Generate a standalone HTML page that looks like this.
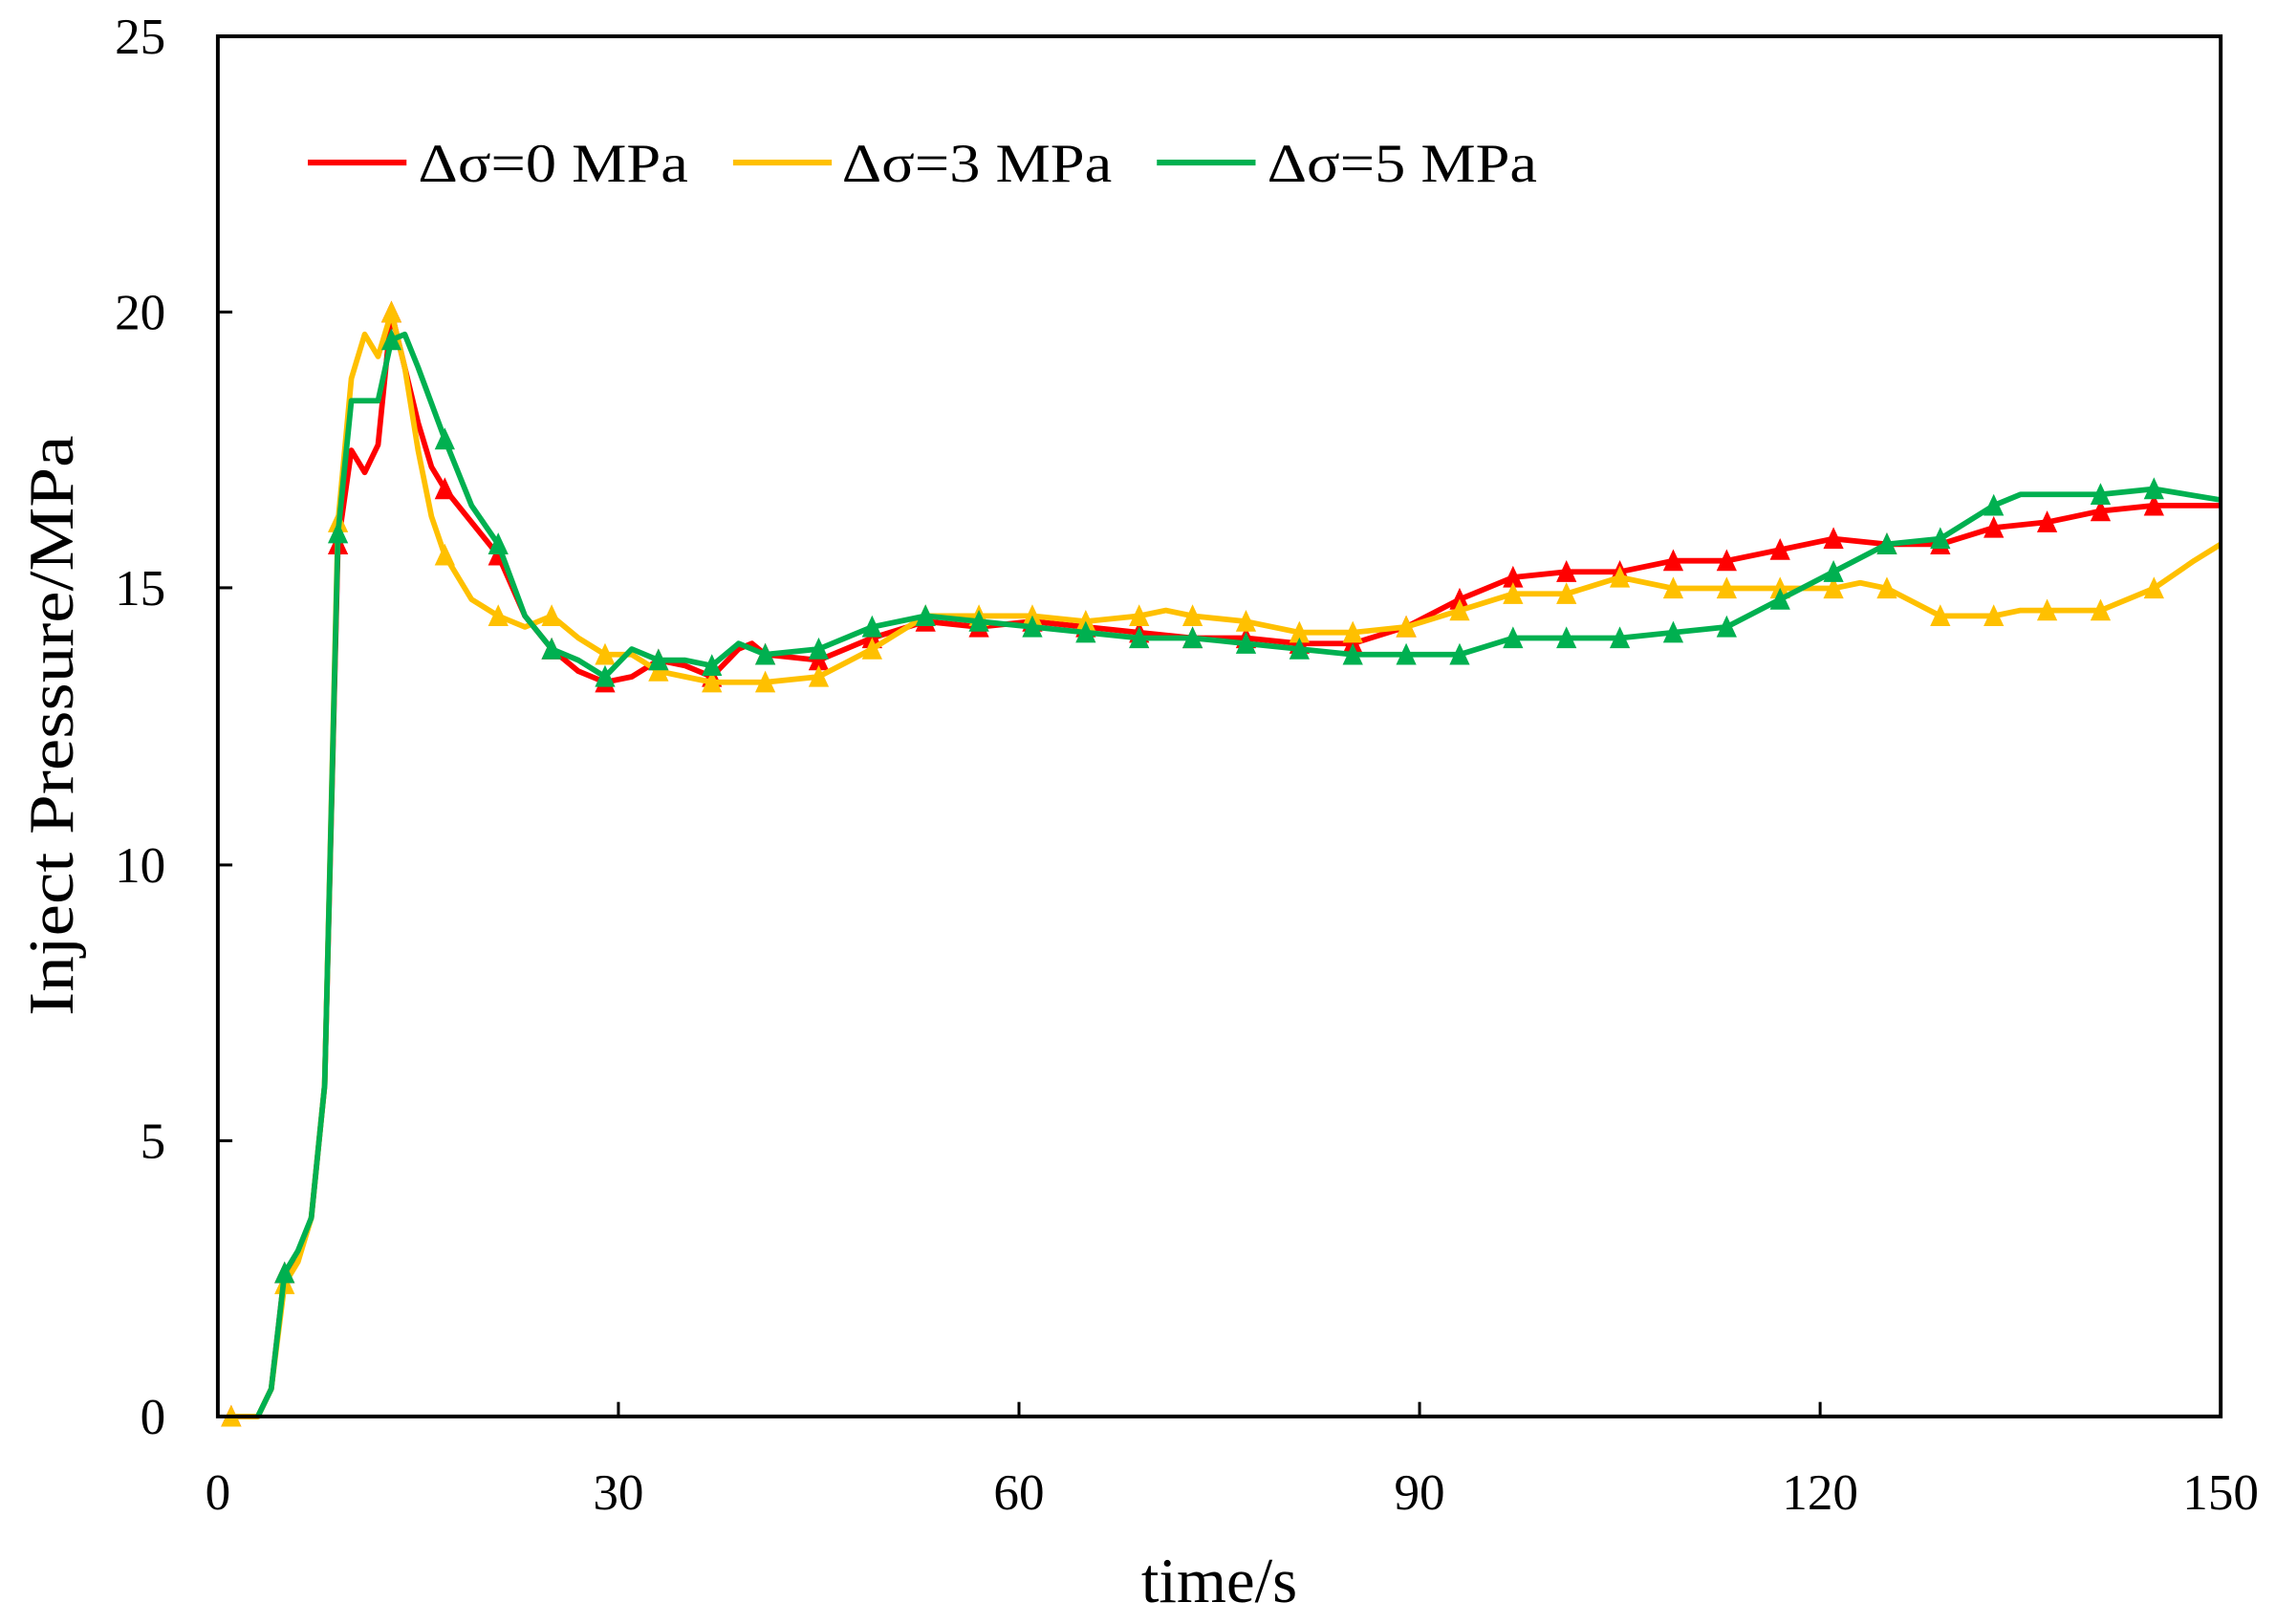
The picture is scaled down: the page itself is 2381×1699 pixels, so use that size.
<!DOCTYPE html>
<html><head><meta charset="utf-8"><style>html,body{margin:0;padding:0;background:#fff}svg{display:block}</style></head>
<body>
<svg id="c" width="2381" height="1699" viewBox="0 0 1568 1119" xmlns="http://www.w3.org/2000/svg" font-family="'Liberation Serif',serif">
<rect width="1568" height="1119" fill="#fff"/>
<g id="series"></g>
<rect x="150" y="25" width="1380" height="951" fill="none" stroke="#000" stroke-width="2.6"/>
<g stroke="#000" stroke-width="2">
<line x1="150" y1="786" x2="160" y2="786"/><line x1="150" y1="596" x2="160" y2="596"/><line x1="150" y1="405" x2="160" y2="405"/><line x1="150" y1="215" x2="160" y2="215"/>
<line x1="426" y1="976" x2="426" y2="966"/><line x1="702" y1="976" x2="702" y2="966"/><line x1="978" y1="976" x2="978" y2="966"/><line x1="1254" y1="976" x2="1254" y2="966"/>
</g>
<g font-size="35" text-anchor="end">
<text x="114" y="988">0</text><text x="114" y="798">5</text><text x="114" y="608">10</text><text x="114" y="417">15</text><text x="114" y="227">20</text><text x="114" y="37">25</text>
</g>
<g font-size="35" text-anchor="middle">
<text x="150" y="1040">0</text><text x="426" y="1040">30</text><text x="702" y="1040">60</text><text x="978" y="1040">90</text><text x="1254" y="1040">120</text><text x="1530" y="1040">150</text>
</g>
<text x="840" y="1104" font-size="44" text-anchor="middle">time/s</text>
<text transform="translate(50,500) rotate(-90)" font-size="44" text-anchor="middle" textLength="400" lengthAdjust="spacingAndGlyphs">Inject Pressure/MPa</text>
<g font-size="38">
<line x1="212" y1="112" x2="280" y2="112" stroke="#ff0000" stroke-width="4"/><text x="288" y="125" textLength="186" lengthAdjust="spacingAndGlyphs">Δσ=0 MPa</text>
<line x1="505" y1="112" x2="573" y2="112" stroke="#ffc000" stroke-width="4"/><text x="580" y="125" textLength="186" lengthAdjust="spacingAndGlyphs">Δσ=3 MPa</text>
<line x1="797" y1="112" x2="865" y2="112" stroke="#00b050" stroke-width="4"/><text x="873" y="125" textLength="186" lengthAdjust="spacingAndGlyphs">Δσ=5 MPa</text>
</g>
</svg>
<script>
var R=[[1,0],[3,0],[4,0.5],[5,2.6],[6,2.9],[7,3.6],[8,6],[9,15.8],[10,17.5],[11,17.1],[12,17.6],[13,20],[14,19],[15,18],[16,17.2],[17,16.8],[19,16.2],[21,15.6],[23,14.5],[25,13.9],[27,13.5],[29,13.3],[31,13.4],[33,13.7],[35,13.6],[37,13.4],[39,13.9],[40,14.0],[41,13.8],[45,13.7],[49,14.1],[53,14.4],[57,14.3],[61,14.4],[65,14.3],[69,14.2],[73,14.1],[77,14.1],[81,14.0],[85,14.0],[89,14.3],[93,14.8],[97,15.2],[101,15.3],[105,15.3],[109,15.5],[113,15.5],[117,15.7],[121,15.9],[125,15.8],[129,15.8],[133,16.1],[137,16.2],[141,16.4],[145,16.5],[150,16.5]];
var Y=[[1,0],[3,0],[4,0.5],[5,2.4],[6,2.8],[7,3.6],[8,6],[9,16.2],[10,18.8],[11,19.6],[12,19.2],[13,20],[14,19],[15,17.5],[16,16.3],[17,15.6],[19,14.8],[21,14.5],[23,14.3],[25,14.5],[27,14.1],[29,13.8],[31,13.8],[33,13.5],[35,13.4],[37,13.3],[41,13.3],[45,13.4],[49,13.9],[53,14.5],[57,14.5],[61,14.5],[65,14.4],[69,14.5],[71,14.6],[73,14.5],[77,14.4],[81,14.2],[85,14.2],[89,14.3],[93,14.6],[97,14.9],[101,14.9],[105,15.2],[109,15.0],[113,15.0],[117,15.0],[121,15.0],[123,15.1],[125,15.0],[129,14.5],[133,14.5],[135,14.6],[137,14.6],[141,14.6],[145,15.0],[148,15.5],[150,15.8]];
var G=[[3,0],[4,0.5],[5,2.6],[6,3],[7,3.6],[8,6],[9,16],[10,18.4],[12,18.4],[13,19.5],[14,19.6],[15,19],[17,17.7],[19,16.5],[21,15.8],[23,14.5],[25,13.9],[27,13.7],[29,13.4],[31,13.9],[33,13.7],[35,13.7],[37,13.6],[39,14.0],[41,13.8],[45,13.9],[49,14.3],[53,14.5],[57,14.4],[61,14.3],[65,14.2],[69,14.1],[73,14.1],[77,14.0],[81,13.9],[85,13.8],[89,13.8],[93,13.8],[97,14.1],[101,14.1],[105,14.1],[109,14.2],[113,14.3],[117,14.8],[121,15.3],[125,15.8],[129,15.9],[133,16.5],[135,16.7],[141,16.7],[145,16.8],[150,16.6]];
function X(t){return 150+t*9.2}function V(v){return 976-v*38.04}
var g=document.getElementById('series'),s='';
[[R,'#ff0000'],[Y,'#ffc000'],[G,'#00b050']].forEach(function(p){
 var d=p[0],c=p[1];
 s+='<polyline fill="none" stroke="'+c+'" stroke-width="3.8" stroke-linejoin="round" points="'+d.map(function(q){return X(q[0]).toFixed(1)+','+V(q[1]).toFixed(1)}).join(' ')+'"/>';
 d.forEach(function(q){if((q[0]-1)%4==0){var x=X(q[0]),y=V(q[1]);s+='<polygon fill="'+c+'" points="'+(x-7)+','+(y+7)+' '+(x+7)+','+(y+7)+' '+x+','+(y-8)+'"/>';}});
});
g.innerHTML=s;
</script>
</body></html>
